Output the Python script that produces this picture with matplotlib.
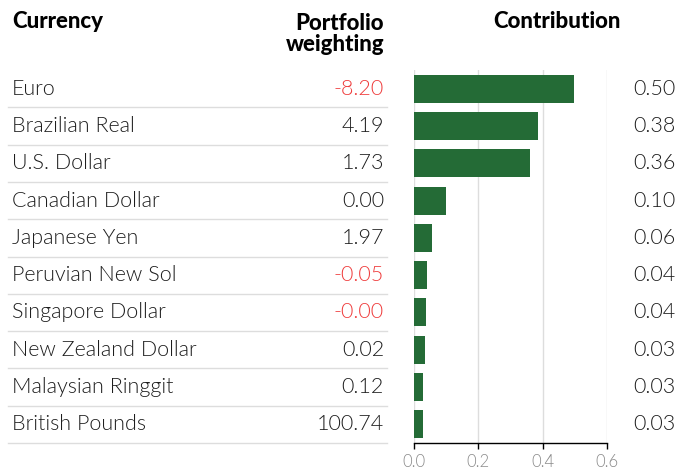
import matplotlib

matplotlib.use("Agg")
import matplotlib.pyplot as plt
import matplotlib.transforms as mtransforms
import numpy as np

currencies = [
    "Euro",
    "Brazilian Real",
    "U.S. Dollar",
    "Canadian Dollar",
    "Japanese Yen",
    "Peruvian New Sol",
    "Singapore Dollar",
    "New Zealand Dollar",
    "Malaysian Ringgit",
    "British Pounds",
]
weighting_labels = ["-8.20", "4.19", "1.73", "0.00", "1.97", "-0.05", "-0.00", "0.02", "0.12", "100.74"]
contribution = [0.497, 0.385, 0.36, 0.10, 0.057, 0.041, 0.038, 0.034, 0.029, 0.027]
contribution_labels = ["0.50", "0.38", "0.36", "0.10", "0.06", "0.04", "0.04", "0.03", "0.03", "0.03"]

GREEN = "#246b36"
RED = "#ef3b3b"
TEXT = "#1e1e1e"
BODY = dict(family="Lato", fontweight=300, fontsize=15.5, color=TEXT)
HEAD = dict(family="Lato", fontweight=900, fontsize=16, color="black")

W, H = 681, 470
fig = plt.figure(figsize=(W / 100, H / 100), dpi=100)
ax = fig.add_axes([414 / W, 27 / H, 193 / W, 373 / H])

rows = np.arange(len(currencies))
ax.barh(rows, contribution, height=0.75, color=GREEN, zorder=3)
ax.set_ylim(len(currencies) - 0.5, -0.5)
ax.set_xlim(0, 0.6)
ax.set_xticks([0.0, 0.2, 0.4, 0.6])
ax.set_xticklabels(["0.0", "0.2", "0.4", "0.6"], family="Lato", fontweight=300,
                   fontsize=12, color="#8a8a8a")
ax.tick_params(axis="x", length=4, width=1, color="black", pad=4)
ax.set_yticks([])
ax.grid(axis="x", color="#dddddd", linewidth=1, zorder=0)
for side in ("top", "right", "left"):
    ax.spines[side].set_visible(False)
ax.spines["bottom"].set_color("black")
ax.spines["bottom"].set_linewidth(1)

# text columns: x in figure coords, y in data rows
row_tf = mtransforms.blended_transform_factory(fig.transFigure, ax.transData)
for i, (name, weight, clabel) in enumerate(zip(currencies, weighting_labels, contribution_labels)):
    fig.text(12 / W, i, name, transform=row_tf, ha="left", va="center", **BODY)
    wcolor = RED if weight.startswith("-") else TEXT
    fig.text(384 / W, i, weight, transform=row_tf, ha="right", va="center",
             **{**BODY, "color": wcolor})
    fig.text(676 / W, i, clabel, transform=row_tf, ha="right", va="center", **BODY)
    fig.add_artist(plt.Line2D([8 / W, 387 / W], [i + 0.5, i + 0.5], transform=row_tf,
                              color="#dddddd", linewidth=1))

fig.text(12 / W, 1 - 22 / H, "Currency", ha="left", va="center", **HEAD)
fig.text(384 / W, 1 - 34 / H, "Portfolio\nweighting", ha="right", va="center",
         linespacing=1.0, **HEAD)
fig.text(557 / W, 1 - 21 / H, "Contribution", ha="center", va="center", **HEAD)

fig.savefig("out.png", dpi=100)
